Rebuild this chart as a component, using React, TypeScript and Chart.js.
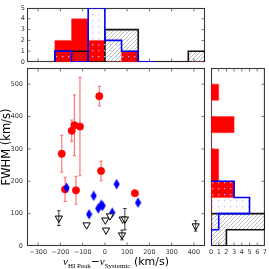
import React, { useEffect, useRef } from 'react';
import { Chart, registerables } from 'chart.js';

Chart.register(...registerables);

// ---------------- data ----------------
const X_TICKS = [-300, -200, -100, 0, 100, 200, 300, 400];
const Y_TICKS = [0, 100, 200, 300, 400, 500];
const TOP_Y_TICKS = [0, 1, 2, 3, 4, 5];
const RIGHT_X_TICKS = [0, 1, 2, 3, 4, 5, 6, 7];

const RED_VEL = [-194, -149, -137, -112, -25, -17, -179, -130, 135];
const RED_FWHM = [285, 356, 373, 369, 463, 232, 175, 172, 163];
const RED_ERR = [57, 33, 94, 152, 30, 30, 37, 43, 0];

const BLUE_VEL = [-172, -71, -50, -30, -17, -10, 33, 53, 149];
const BLUE_FWHM = [180, 98, 155, 116, 127, 124, 103, 191, 134];

const BLACK_VEL = [-207, -82, 2, 5, 23, 80, 90, 77, 408];
const BLACK_FWHM = [86, 65, 80, 49, 93, 83, 83, 34, 62];
const BLACK_ERR = [23, 0, 0, 0, 0, 0, 33, 15, 16];

const VEL_EDGES = [-225, -150, -75, 0, 75, 150, 225, 300, 375, 450];
const RED_VEL_COUNTS = [2, 4, 2, 0, 1, 0, 0, 0, 0];
const BLUE_VEL_COUNTS = [1, 0, 5, 2, 1, 0];
const BLACK_VEL_COUNTS = [1, 1, 0, 3, 3, 0, 0, 0, 1];

const FWHM_EDGES = [0, 50, 100, 150, 200, 250, 300, 350, 400, 450, 500];
const RED_FWHM_COUNTS = [0, 0, 0, 3, 1, 1, 0, 3, 0, 1];
const BLUE_FWHM_COUNTS = [0, 1, 5, 3];
const BLACK_FWHM_COUNTS = [2, 7];

// ---------------- helpers ----------------
const fmt = (v: number | string) => String(v).replace('-', '\u2212');

function topSteps(edges: number[], counts: number[]) {
  const pts = [{ x: edges[0], y: 0 }];
  counts.forEach((c, i) => pts.push({ x: edges[i + 1], y: c }));
  pts.push({ x: edges[counts.length], y: 0 });
  return pts;
}
function rightSteps(edges: number[], counts: number[]) {
  const pts = [{ x: 0, y: edges[0] }];
  counts.forEach((c, i) => pts.push({ x: c, y: edges[i + 1] }));
  pts.push({ x: 0, y: edges[counts.length] });
  return pts;
}

function makeHatch(ctx: CanvasRenderingContext2D) {
  const c = document.createElement('canvas');
  c.width = 4; c.height = 4;
  const g = c.getContext('2d')!;
  g.strokeStyle = 'rgba(40,40,40,0.45)';
  g.lineWidth = 0.7;
  g.beginPath();
  g.moveTo(0, 4); g.lineTo(4, 0);
  g.moveTo(-1, 1); g.lineTo(1, -1);
  g.moveTo(3, 5); g.lineTo(5, 3);
  g.stroke();
  return ctx.createPattern(c, 'repeat')!;
}
function makeDots(ctx: CanvasRenderingContext2D) {
  const c = document.createElement('canvas');
  c.width = 6; c.height = 6;
  const g = c.getContext('2d')!;
  g.fillStyle = 'rgba(190,190,255,0.95)';
  g.fillRect(2, 2, 1.3, 1.3);
  return ctx.createPattern(c, 'repeat')!;
}
function makeDiamond() {
  const c = document.createElement('canvas');
  c.width = 7; c.height = 11;
  const g = c.getContext('2d')!;
  g.fillStyle = '#0000ff';
  g.beginPath();
  g.moveTo(3.5, 0.2); g.lineTo(6.6, 5.5); g.lineTo(3.5, 10.8); g.lineTo(0.4, 5.5);
  g.closePath(); g.fill();
  return c;
}

function frameTicksPlugin(xTicks: number[], yTicks: number[]) {
  return {
    id: 'frameTicks',
    beforeDatasetsDraw(chart: any) {
      const { ctx, chartArea: a, scales } = chart;
      ctx.save();
      ctx.strokeStyle = '#3a3a3a';
      ctx.lineWidth = 1.1;
      ctx.strokeRect(a.left + 0.5, a.top + 0.5, a.right - a.left - 1, a.bottom - a.top - 1);
      ctx.strokeStyle = '#555';
      ctx.lineWidth = 0.8;
      const L = 3.5;
      ctx.beginPath();
      xTicks.forEach((v) => {
        const p = scales.x.getPixelForValue(v);
        if (p <= a.left + 1 || p >= a.right - 1) return;
        ctx.moveTo(p, a.bottom); ctx.lineTo(p, a.bottom - L);
        ctx.moveTo(p, a.top); ctx.lineTo(p, a.top + L);
      });
      yTicks.forEach((v) => {
        const p = scales.y.getPixelForValue(v);
        if (p <= a.top + 1 || p >= a.bottom - 1) return;
        ctx.moveTo(a.left, p); ctx.lineTo(a.left + L, p);
        ctx.moveTo(a.right, p); ctx.lineTo(a.right - L, p);
      });
      ctx.stroke();
      ctx.restore();
    },
  };
}

function drawBars(chart: any, xs: number[], ys: number[], errs: number[], color: string, width: number, cap: number) {
  const { ctx, scales } = chart;
  ctx.save();
  ctx.strokeStyle = color;
  ctx.lineWidth = width;
  xs.forEach((xv, i) => {
    const e = errs[i];
    if (!e) return;
    const px = scales.x.getPixelForValue(xv);
    const y1 = scales.y.getPixelForValue(ys[i] - e);
    const y2 = scales.y.getPixelForValue(ys[i] + e);
    ctx.beginPath();
    ctx.moveTo(px, y1); ctx.lineTo(px, y2);
    ctx.moveTo(px - cap, y1); ctx.lineTo(px + cap, y1);
    ctx.moveTo(px - cap, y2); ctx.lineTo(px + cap, y2);
    ctx.stroke();
  });
  ctx.restore();
}

const errorBarsPlugin = {
  id: 'errorBars',
  beforeDatasetsDraw(chart: any) {
    drawBars(chart, RED_VEL, RED_FWHM, RED_ERR, 'rgba(255,30,30,0.6)', 1.2, 1.5);
  },
  afterDatasetsDraw(chart: any) {
    drawBars(chart, BLACK_VEL, BLACK_FWHM, BLACK_ERR, 'rgba(0,0,0,0.75)', 1, 1.8);
  },
};

const titlesPlugin = {
  id: 'titles',
  afterDraw(chart: any) {
    const { ctx, chartArea: a } = chart;
    ctx.save();
    ctx.fillStyle = '#000';
    ctx.translate(a.left - 20, (a.top + a.bottom) / 2 - 10);
    ctx.rotate(-Math.PI / 2);
    ctx.font = '11.5px "DejaVu Sans"';
    ctx.textAlign = 'center';
    ctx.textBaseline = 'middle';
    ctx.fillText('FWHM (km/s)', 0, 0);
    ctx.restore();

    const parts = [
      { t: 'v', f: 'italic 11px "Liberation Serif"', dy: 0 },
      { t: 'HI Peak', f: '7px "Liberation Serif"', dy: 2.5 },
      { t: '\u2212', f: '11px "DejaVu Sans"', dy: 0 },
      { t: 'v', f: 'italic 11px "Liberation Serif"', dy: 0 },
      { t: 'Systemic', f: '7px "Liberation Serif"', dy: 2.5 },
      { t: ' (km/s)', f: '11px "DejaVu Sans"', dy: 0 },
    ];
    ctx.save();
    ctx.fillStyle = '#000';
    ctx.textBaseline = 'alphabetic';
    ctx.textAlign = 'left';
    let total = 0;
    const ws = parts.map((p) => { ctx.font = p.f; const w = ctx.measureText(p.t).width; total += w; return w; });
    let x = (a.left + a.right) / 2 - total / 2;
    const base = 265;
    parts.forEach((p, i) => {
      ctx.font = p.f;
      ctx.fillText(p.t, x, base + p.dy);
      x += ws[i];
    });
    ctx.restore();
  },
};

const tickFont = { family: 'DejaVu Sans', size: 6.5 };

export default function App() {
  const topRef = useRef<HTMLCanvasElement>(null);
  const mainRef = useRef<HTMLCanvasElement>(null);
  const rightRef = useRef<HTMLCanvasElement>(null);

  useEffect(() => {
    document.body.style.margin = '0';
    const charts: Chart[] = [];
    const ctx0 = topRef.current!.getContext('2d')!;
    const hatch = makeHatch(ctx0);
    const dots = makeDots(ctx0);
    const diamond = makeDiamond();

    const histDs = (data: any[], kind: string, stepped: string) => {
      if (kind === 'red') return { data, stepped, fill: 'shape', backgroundColor: '#ff0000', borderColor: 'rgba(255,60,60,0.55)', borderWidth: 1, pointRadius: 0, order: 2 };
      if (kind === 'black') return { data, stepped, fill: 'shape', backgroundColor: hatch, borderColor: '#111', borderWidth: 1.6, pointRadius: 0, order: 1 };
      return { data, stepped, fill: 'shape', backgroundColor: dots, borderColor: '#0000ff', borderWidth: 1.6, pointRadius: 0, order: 0 };
    };

    const common = {
      animation: false as const,
      responsive: false,
      events: [] as any[],
    };

    // ---- top histogram ----
    charts.push(new Chart(topRef.current!, {
      type: 'line',
      data: {
        datasets: [
          histDs(topSteps(VEL_EDGES, BLUE_VEL_COUNTS), 'blue', 'after'),
          histDs(topSteps(VEL_EDGES, BLACK_VEL_COUNTS), 'black', 'after'),
          histDs(topSteps(VEL_EDGES, RED_VEL_COUNTS), 'red', 'after'),
        ] as any,
      },
      options: {
        ...common,
        layout: { padding: { left: 0, top: 8, right: 64, bottom: 207 } },
        plugins: { legend: { display: false }, tooltip: { enabled: false } },
        scales: {
          x: { type: 'linear', min: -350, max: 450, display: false },
          y: {
            type: 'linear', min: 0, max: 5,
            afterBuildTicks: (s: any) => { s.ticks = TOP_Y_TICKS.map((v) => ({ value: v })); },
            afterFit: (s: any) => { s.width = 27; },
            grid: { display: false, drawTicks: false }, border: { display: false },
            ticks: { font: tickFont, color: '#333', padding: 2, callback: (v: any) => fmt(v) },
          },
        },
      } as any,
      plugins: [frameTicksPlugin(X_TICKS, TOP_Y_TICKS)],
    }));

    // ---- main scatter ----
    charts.push(new Chart(mainRef.current!, {
      type: 'scatter',
      data: {
        datasets: [
          {
            data: BLACK_VEL.map((x, i) => ({ x, y: BLACK_FWHM[i] })),
            pointStyle: 'triangle', pointRotation: 180, pointRadius: 4.2,
            pointBackgroundColor: '#ffffff', pointBorderColor: '#000000', pointBorderWidth: 1, order: 0,
          },
          {
            data: BLUE_VEL.map((x, i) => ({ x, y: BLUE_FWHM[i] })),
            pointStyle: diamond, pointRadius: 5, order: 1,
          },
          {
            data: RED_VEL.map((x, i) => ({ x, y: RED_FWHM[i] })),
            pointStyle: 'circle', pointRadius: 3.7,
            pointBackgroundColor: '#ff0000', pointBorderColor: '#ff0000', pointBorderWidth: 0.5, order: 2,
          },
        ] as any,
      },
      options: {
        ...common,
        layout: { padding: { left: 0, top: 68, right: 64, bottom: 0 } },
        plugins: { legend: { display: false }, tooltip: { enabled: false } },
        scales: {
          x: {
            type: 'linear', min: -350, max: 450,
            afterBuildTicks: (s: any) => { s.ticks = X_TICKS.map((v) => ({ value: v })); },
            afterFit: (s: any) => { s.height = 23; },
            grid: { display: false, drawTicks: false }, border: { display: false },
            ticks: { font: tickFont, color: '#333', padding: 2, maxRotation: 0, autoSkip: false, callback: (v: any) => fmt(v) },
          },
          y: {
            type: 'linear', min: 0, max: 550,
            afterBuildTicks: (s: any) => { s.ticks = Y_TICKS.map((v) => ({ value: v })); },
            afterFit: (s: any) => { s.width = 27; },
            grid: { display: false, drawTicks: false }, border: { display: false },
            ticks: { font: tickFont, color: '#333', padding: 4, callback: (v: any) => fmt(v) },
          },
        },
      } as any,
      plugins: [frameTicksPlugin(X_TICKS, Y_TICKS), errorBarsPlugin, titlesPlugin],
    }));

    // ---- right histogram ----
    charts.push(new Chart(rightRef.current!, {
      type: 'line',
      data: {
        datasets: [
          histDs(rightSteps(FWHM_EDGES, BLUE_FWHM_COUNTS), 'blue', 'before'),
          histDs(rightSteps(FWHM_EDGES, BLACK_FWHM_COUNTS), 'black', 'before'),
          histDs(rightSteps(FWHM_EDGES, RED_FWHM_COUNTS), 'red', 'before'),
        ] as any,
      },
      options: {
        ...common,
        layout: { padding: { left: 211, top: 68, right: 4, bottom: 0 } },
        plugins: { legend: { display: false }, tooltip: { enabled: false } },
        scales: {
          x: {
            type: 'linear', min: 0, max: 7,
            afterBuildTicks: (s: any) => { s.ticks = RIGHT_X_TICKS.map((v) => ({ value: v })); },
            afterFit: (s: any) => { s.height = 23; },
            grid: { display: false, drawTicks: false }, border: { display: false },
            ticks: { font: tickFont, color: '#333', padding: 2, maxRotation: 0, autoSkip: false },
          },
          y: { type: 'linear', min: 0, max: 550, display: false },
        },
      } as any,
      plugins: [frameTicksPlugin(RIGHT_X_TICKS, Y_TICKS)],
    }));

    return () => charts.forEach((c) => c.destroy());
  }, []);

  const st: React.CSSProperties = { position: 'absolute', left: 0, top: 0 };
  return (
    <div style={{ position: 'fixed', left: 0, top: 0, width: 269, height: 269, background: '#fff' }}>
      <canvas ref={topRef} width={269} height={269} style={st} />
      <canvas ref={mainRef} width={269} height={269} style={st} />
      <canvas ref={rightRef} width={269} height={269} style={st} />
    </div>
  );
}
